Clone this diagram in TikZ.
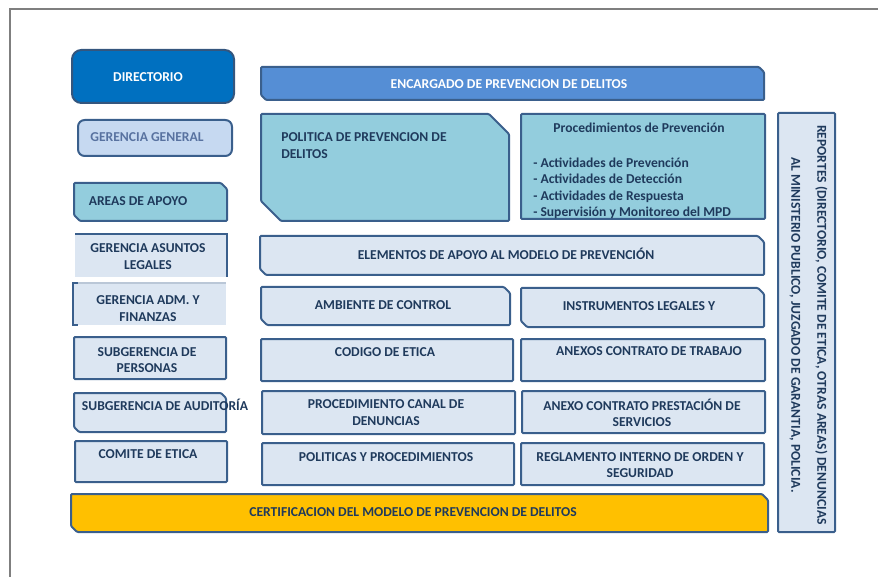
\documentclass[tikz,border=0pt]{standalone}
\usepackage{fontspec}
\setmainfont{Carlito}
\usepackage{xcolor}
\usepackage{tikz}
\usetikzlibrary{calc}

\definecolor{edge}{HTML}{3A5F8C}
\definecolor{navy}{HTML}{1F3A5C}
\definecolor{ggtext}{HTML}{5872A0}
\definecolor{dirblue}{HTML}{0070C0}
\definecolor{midblue}{HTML}{558ED5}
\definecolor{skyblue}{HTML}{C6D9F1}
\definecolor{aqua}{HTML}{93CDDD}
\definecolor{pale}{HTML}{DCE6F2}
\definecolor{gold}{HTML}{FFC000}
\definecolor{pageline}{HTML}{7F7F7F}

\tikzset{
  box/.style={draw=edge, line width=1.5pt, fill=pale, rounded corners=0.8pt},
  lbl/.style={font=\bfseries\fontsize{10.2}{12.4}\selectfont, text=navy, inner sep=0pt, align=center},
}
% box with cut top-right and bottom-left corners
\newcommand{\cutbox}[6]{%
  \draw[box,#1] (#2,#3) -- (#4-#6,#3) -- (#4,#3+#6) -- (#4,#5)
    -- (#2+#6,#5) -- (#2,#5-#6) -- cycle;}

\begin{document}
\begin{tikzpicture}[x=0.75pt,y=-0.75pt]
\useasboundingbox (0,0) rectangle (878,577);
% page edge
\draw[pageline, line width=1.5pt] (10,577) -- (10,9) -- (878,9);

% Left column
\draw[box, fill=dirblue, draw=edge!90!black, rounded corners=7pt] (72,50) rectangle (234,103);
\node[lbl, text=white] (dir) at (148,77) {DIRECTORIO};

\draw[box, fill=skyblue, rounded corners=5pt] (78,120) rectangle (232,156);
\node[lbl, text=ggtext] (gg) at (147,137) {GERENCIA GENERAL};

\cutbox{fill=aqua}{74}{183}{227}{221}{6}
\node[lbl] (areas) at (138,201) {AREAS DE APOYO};

\fill[pale] (75,234) rectangle (227,277);
\draw[edge, line width=1.5pt] (75,234) -- (227,234) -- (227,277);
\node[lbl] (legal) at (148,256.5) {GERENCIA ASUNTOS\\LEGALES};

\fill[pale] (73,283) rectangle (226,325);
\draw[edge!35, line width=1.5pt] (73,283) -- (226,283);
\draw[edge, line width=1.5pt] (78,283) -- (73,283) -- (73,325) -- (78,325);
\node[lbl] (adm) at (148,308.5) {GERENCIA ADM. Y\\FINANZAS};

\draw[box] (74,337) rectangle (226,379);
\node[lbl] (pers) at (147,360) {SUBGERENCIA DE\\PERSONAS};

\cutbox{}{74}{393}{226}{432}{5}
\node[lbl] (aud) at (165,405) {SUBGERENCIA DE AUDITORÍA};

\draw[box] (75,441) rectangle (227,482);
\node[lbl] (com) at (148,454) {COMITE DE ETICA};

% Middle columns
\cutbox{fill=midblue}{261}{67}{764}{100}{5}
\node[lbl, text=white] (enc) at (509,84) {ENCARGADO DE PREVENCION DE DELITOS};

\cutbox{fill=aqua}{261}{114}{509}{221}{20}
\node[lbl, align=left, anchor=north west] (pol) at (281,132.5) {POLITICA DE PREVENCION DE\\DELITOS};

\draw[box, fill=aqua] (521,114) rectangle (765,219);
\node[lbl] (proc) at (639,128) {Procedimientos de Prevención};
\node[lbl, align=left, anchor=north west] (acts) at (533,157.5) {- Actividades de Prevención\\- Actividades de Detección\\- Actividades de Respuesta\\- Supervisión y Monitoreo del MPD};

\cutbox{}{260}{236}{764}{275}{6}
\node[lbl] (elem) at (506,254) {ELEMENTOS DE APOYO AL MODELO DE PREVENCIÓN};

\cutbox{}{261}{287}{510}{325}{6}
\node[lbl] (amb) at (383,305) {AMBIENTE DE CONTROL};
\cutbox{}{521}{288}{764}{327}{6}
\node[lbl] (inst) at (639,306) {INSTRUMENTOS LEGALES Y};

\draw[box] (261,339) rectangle (513,381);
\node[lbl] (cod) at (385,352) {CODIGO DE ETICA};
\draw[box] (521,339) rectangle (765,381);
\node[lbl] (anx) at (649,351) {ANEXOS CONTRATO DE TRABAJO};

\draw[box] (262,391) rectangle (515,434);
\node[lbl] (canal) at (386,412.5) {PROCEDIMIENTO CANAL DE\\DENUNCIAS};
\draw[box] (522,391) rectangle (765,433);
\node[lbl] (prest) at (642,413) {ANEXO CONTRATO PRESTACIÓN DE\\SERVICIOS};

\draw[box] (262,443) rectangle (514,485);
\node[lbl] (polp) at (386,457) {POLITICAS Y PROCEDIMIENTOS};
\draw[box] (521,443) rectangle (764,485);
\node[lbl] (regl) at (640,465) {REGLAMENTO INTERNO DE ORDEN Y\\SEGURIDAD};

% Bottom bar
\cutbox{fill=gold}{71}{494}{768}{532}{6}
\node[lbl] (cert) at (413,512) {CERTIFICACION DEL MODELO DE PREVENCION DE DELITOS};

% Right side reports
\draw[box] (778,113) rectangle (835,532);
\node[lbl, rotate=-90] (rep) at (808.5,325) {REPORTES (DIRECTORIO, COMITE DE ETICA, OTRAS AREAS) DENUNCIAS\\[7pt]AL MINISTERIO PUBLICO, JUZGADO DE GARANTIA, POLICIA.};
\end{tikzpicture}
\end{document}
